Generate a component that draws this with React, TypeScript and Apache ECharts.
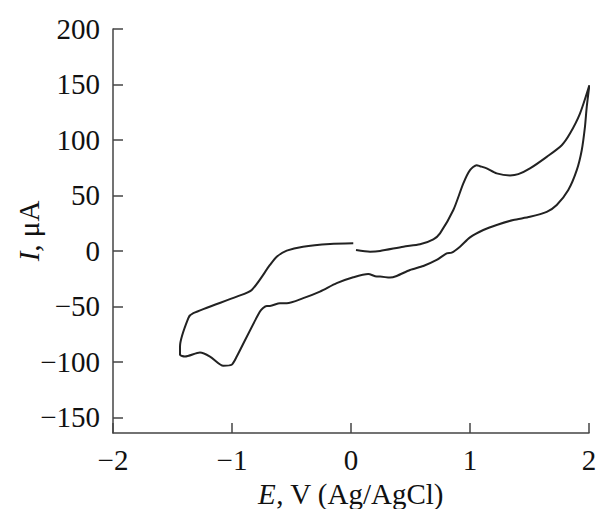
import React, { useEffect, useRef } from "react";
import * as echarts from "echarts";

// Potential (V vs Ag/AgCl) and current (µA) along the scan, in scan order
const potential: number[] = [
  0.042, 0.16, 0.244, 0.44, 0.58, 0.692, 0.748, 0.86, 0.944, 1.0, 1.056, 1.084, 1.14, 1.224, 1.336, 1.406,
  1.504, 1.645, 1.771, 1.84, 1.924, 2.003,
  1.981, 1.966, 1.939, 1.897, 1.826, 1.729, 1.645, 1.504, 1.364, 1.224, 1.112, 1.0, 0.916, 0.846, 0.804,
  0.72, 0.608, 0.496, 0.384, 0.328, 0.244, 0.216, 0.145, 0.019, -0.12, -0.261, -0.401, -0.54, -0.597,
  -0.681, -0.708, -0.765, -0.96, -1.003, -1.073, -1.185, -1.269, -1.395, -1.437, -1.437, -1.367, -1.325,
  -0.96, -0.834, -0.681, -0.624, -0.54, -0.403, -0.176, 0.019,
];
const current: number[] = [
  0.9, -0.6, 0, 3.9, 6.0, 10.5, 15.9, 36.9, 60.9, 72.8, 77.3, 76.4, 74.4, 69.9, 68.1, 69.2,
  74.4, 84.8, 95.3, 105.8, 123.8, 149.3,
  129.8, 111.8, 90.8, 72.8, 54.9, 41.4, 35.3, 30.8, 27.9, 23.4, 18.9, 12.3, 3.9, -1.5, -2.1,
  -8.1, -13.5, -17.1, -22.5, -24.0, -23.1, -23.1, -20.7, -23.7, -29.0, -36.6, -42.5, -47.0, -47.0,
  -49.5, -49.5, -54.6, -95.1, -102.5, -103.4, -95.1, -91.5, -95.1, -93.5, -86.1, -60.5, -56.0,
  -41.1, -35.1, -12.6, -5.1, 0.3, 3.9, 6.3, 6.9,
];
const yTicks: number[] = [-150, -100, -50, 0, 50, 100, 150, 200];
const xTicks: number[] = [-2, -1, 0, 1, 2];

const FONT = "Liberation Serif";
const FS = 29;

export default function App() {
  const ref = useRef<HTMLDivElement>(null);
  useEffect(() => {
    if (!ref.current) return;
    const chart = echarts.init(ref.current, undefined, { renderer: "svg" });
    const data = potential.map((e, i) => [e, current[i]]);
    const axisLine = { show: true, onZero: false, lineStyle: { color: "#444", width: 1.5 } };
    const fmt = (v: number) => (v < 0 ? "\u2212" + Math.abs(v) : String(v));
    const nameStyle = {
      color: "#111",
      fontFamily: FONT,
      fontSize: FS,
      rich: { i: { fontStyle: "italic", fontFamily: FONT, fontSize: FS, color: "#111" } },
    };
    chart.setOption({
      animation: false,
      backgroundColor: "#fff",
      grid: { left: 113, right: 9, top: 29, bottom: 76, containLabel: false, outerBoundsMode: "none" },
      xAxis: {
        type: "value",
        min: -2,
        max: 2,
        interval: 1,
        axisLine,
        axisTick: { show: true, inside: true, length: 10, lineStyle: { color: "#444", width: 1.5 }, customValues: xTicks },
        axisLabel: {
          color: "#111",
          fontFamily: FONT,
          fontSize: FS,
          margin: 12,
          customValues: xTicks,
          formatter: fmt,
        },
        splitLine: { show: false },
        name: "{i|E}, V (Ag/AgCl)",
        nameLocation: "middle",
        nameMoveOverlap: false,
        nameGap: 46,
        nameTextStyle: nameStyle,
      },
      yAxis: {
        type: "value",
        min: -164,
        max: 200,
        axisLine,
        axisTick: { show: true, inside: true, length: 10, lineStyle: { color: "#444", width: 1.5 }, customValues: yTicks },
        axisLabel: {
          color: "#111",
          fontFamily: FONT,
          fontSize: FS,
          margin: 13,
          customValues: yTicks,
          formatter: fmt,
        },
        splitLine: { show: false },
        name: "{i|I}, \u03bcA",
        nameLocation: "middle",
        nameMoveOverlap: false,
        nameGap: 70,
        nameTextStyle: nameStyle,
      },
      series: [
        {
          type: "line",
          data,
          showSymbol: false,
          smooth: 0.25,
          lineStyle: { color: "#222", width: 2 },
        },
      ],
    });
    return () => chart.dispose();
  }, []);
  return (
    <div
      ref={ref}
      style={{ position: "fixed", left: 0, top: 0, width: 598, height: 509, background: "#fff" }}
    />
  );
}
